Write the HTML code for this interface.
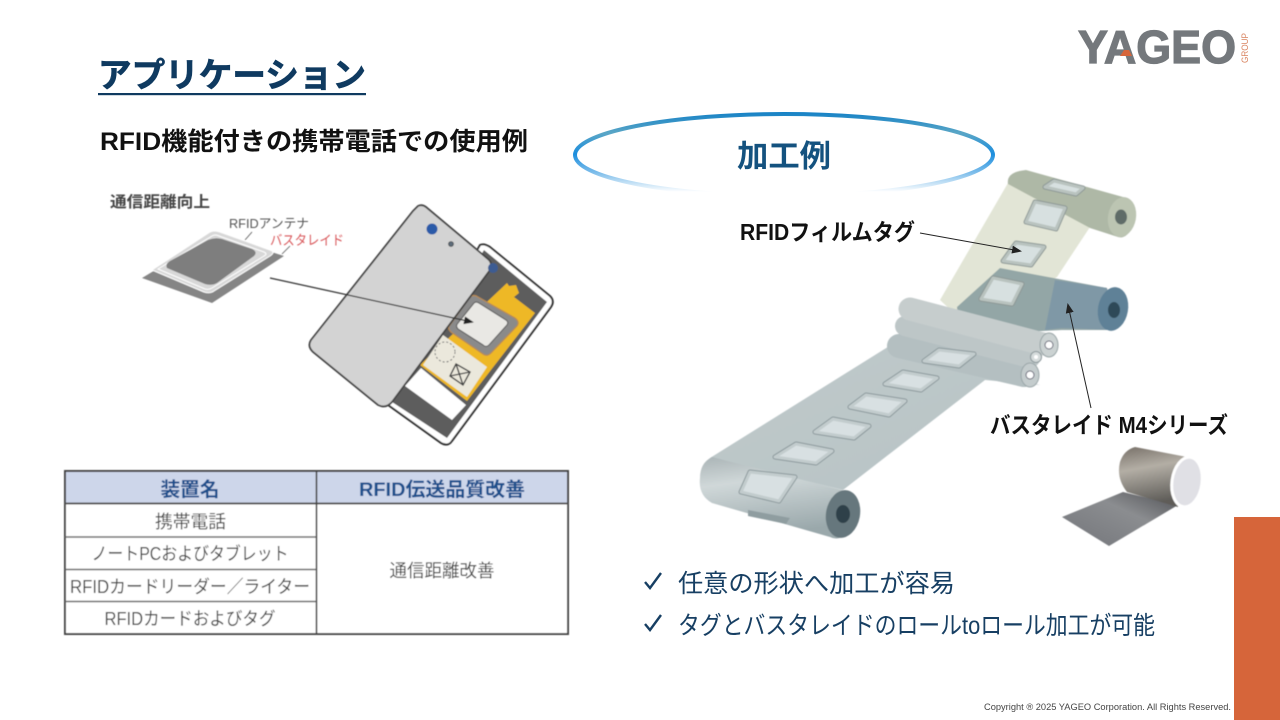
<!DOCTYPE html>
<html lang="ja"><head><meta charset="utf-8"><title>アプリケーション</title>
<style>
html,body{margin:0;padding:0;background:#fff}
svg{display:block;width:1280px;height:720px;font-family:"Liberation Sans","Noto Sans CJK JP",sans-serif}
</style></head><body>
<svg xmlns="http://www.w3.org/2000/svg" width="1280" height="720" viewBox="0 0 1280 720">
<defs>
<linearGradient id="ring" x1="0" y1="112" x2="0" y2="196" gradientUnits="userSpaceOnUse">
<stop offset="0" stop-color="#1581c6"/><stop offset=".25" stop-color="#5aa6c6"/><stop offset=".5" stop-color="#1b8ede"/><stop offset=".72" stop-color="#7dbdea"/><stop offset=".95" stop-color="#fff"/>
</linearGradient>
<linearGradient id="belt" x1="0" y1="0" x2="1" y2="1"><stop offset="0" stop-color="#c0cacb"/><stop offset="1" stop-color="#b7c3c5"/></linearGradient>
<linearGradient id="rollB" x1="0" y1="0" x2="0.25" y2="1"><stop offset="0" stop-color="#aab4b6"/><stop offset=".35" stop-color="#d0d8d9"/><stop offset="1" stop-color="#9aa8ab"/></linearGradient>
<linearGradient id="metal" x1="0" y1="0" x2=".2" y2="1"><stop offset="0" stop-color="#777068"/><stop offset=".4" stop-color="#b3aea5"/><stop offset="1" stop-color="#5e5c58"/></linearGradient>
<linearGradient id="sheet" x1="0" y1="1" x2="1" y2="0"><stop offset="0" stop-color="#73757a"/><stop offset=".6" stop-color="#8b8d90"/><stop offset="1" stop-color="#4f5054"/></linearGradient>
<marker id="ah" markerWidth="10" markerHeight="8" refX="8" refY="4" orient="auto" markerUnits="userSpaceOnUse"><path d="M0 0L10 4L0 8Z" fill="#222"/></marker>
<filter id="soft"><feGaussianBlur stdDeviation=".45"/></filter>
<g id="ltags" stroke-linejoin="round">
<polygon points="924,361 939,350 974,354 959,366"/>
<polygon points="885,384 903,372 937,378 921,390"/>
<polygon points="850,407 866,395 905,401 889,415"/>
<polygon points="815,432 833,419 869,426 854,438"/>
<polygon points="775,457 796,444 832,451 816,463"/>
<polygon points="741,492 750,472 795,477 779,501"/>
</g>
<g id="utags" stroke-linejoin="round">
<polygon points="1045,187 1054,181 1083,188 1076,194"/>
<polygon points="1026,222 1035,202 1065,208 1056,229"/>
<polygon points="1003,261 1016,243 1044,247 1031,265"/>
<polygon points="981,299 993,278 1022,284 1012,304"/>
</g>
</defs>

<rect width="1280" height="720" fill="#fff"/>

<!-- Title -->
<text x="98" y="87" font-size="34" font-weight="700" fill="#0f3a60" stroke="#0f3a60" stroke-width=".7" textLength="268" lengthAdjust="spacingAndGlyphs">アプリケーション</text>
<rect x="98" y="93" width="268" height="2.2" fill="#0f3a60"/>
<text x="100" y="150" font-size="25" font-weight="700" fill="#111" textLength="428" lengthAdjust="spacingAndGlyphs">RFID機能付きの携帯電話での使用例</text>

<!-- Logo -->
<text x="1078" y="63" font-size="46" font-weight="700" fill="#74787c" stroke="#74787c" stroke-width="1.2" textLength="158" lengthAdjust="spacingAndGlyphs">YAGEO</text>
<polygon points="1120,56 1124,50 1129,50 1132,56" fill="#d6653a"/>
<text transform="translate(1248,63) rotate(-90)" font-size="9" fill="#d9835f" textLength="30" lengthAdjust="spacingAndGlyphs">GROUP</text>

<!-- Left illustration -->
<g filter="url(#soft)">
<text x="110" y="207" font-size="15.5" font-weight="700" fill="#444" textLength="100" lengthAdjust="spacingAndGlyphs">通信距離向上</text>
<text x="229" y="228" font-size="13" fill="#555" textLength="80" lengthAdjust="spacingAndGlyphs">RFIDアンテナ</text>
<text x="270" y="245" font-size="13.5" fill="#d8575a" textLength="74" lengthAdjust="spacingAndGlyphs">バスタレイド</text>
<polygon points="142,278 215,234 284,256 212,303" fill="#858585"/>
<path d="M152 270L210 232Q214 230 220 232L270 250Q276 252 270 256L214 291Q210 294 204 292Z" fill="#d8d8d8" stroke="#fff" stroke-width="1"/>
<path d="M158 269L212 236Q215 234 219 236L264 252Q268 254 264 256L212 288Q209 290 205 289Z" fill="none" stroke="#fff" stroke-width="1"/>
<path d="M167 268Q165 264 170 261L208 240Q215 237 222 239L252 249Q258 252 254 256L217 283Q212 286 205 284Z" fill="#7e7e7e"/>
<line x1="252" y1="232" x2="245" y2="240" stroke="#555" stroke-width=".8"/>
<line x1="290" y1="246" x2="282" y2="254" stroke="#555" stroke-width=".8"/>

<!-- phone body -->
<path d="M480 245Q484 243 490 247L550 296Q555 301 551 307L452 441Q448 447 441 443L388 405Z" fill="#fff" stroke="#333" stroke-width="2"/>
<path d="M484 250L547 302L447 438L392 402Z" fill="#5d5d5d"/>
<polygon points="507,283 509,286 516,285 519,293 514,297 535,313 467,401 420,365" fill="#eeb826"/>
<polygon points="423,365 443,335 487,367 467,397" fill="#ebe8dc"/>
<polygon points="405,386 421,368 466,405 452,420" fill="#fff"/>
<path d="M470 297Q474 294 478 297L515 318Q520 322 517 326L491 353Q487 357 483 354L451 332Q447 328 450 325Z" fill="#8a8a8a" stroke="#b98a52" stroke-width="1.2"/>
<path d="M474 303Q476 301 479 303L506 320Q509 322 507 325L489 345Q486 348 483 345L458 329Q455 326 458 323Z" fill="#e9e8e4" stroke="#666" stroke-width="1.2"/>
<circle cx="445" cy="352" r="10" fill="none" stroke="#777" stroke-width="1" stroke-dasharray="2 2"/>
<path d="M456 364L470 372L463 385L450 376ZM456 364L463 385M470 372L450 376" fill="none" stroke="#444" stroke-width="1.4"/>
<!-- phone back -->
<path d="M418 206Q422 204 426 207L488 259Q493 263 490 270L392 402Q386 409 378 405L313 352Q307 346 311 340L413 211Z" fill="#d3d3d3" stroke="#444" stroke-width="1.8"/>
<circle cx="432" cy="229" r="5.5" fill="#2a5aa8"/><circle cx="451" cy="244" r="2.5" fill="#5c6a78" stroke="#333" stroke-width=".6"/>
<circle cx="493" cy="268" r="5" fill="#3d5c92"/>
<line x1="270" y1="278" x2="472" y2="322" stroke="#333" stroke-width="1.2" marker-end="url(#ah)"/>
</g>

<!-- Table -->
<g filter="url(#soft)">
<rect x="65" y="471" width="503" height="163" fill="#fff" stroke="#444" stroke-width="2"/>
<rect x="66" y="472" width="501" height="31" fill="#cdd6ea"/>
<line x1="65" y1="503.5" x2="568" y2="503.5" stroke="#555" stroke-width="2"/>
<line x1="316.500" y1="471" x2="316.500" y2="634" stroke="#444" stroke-width="1.6"/>
<g stroke="#666" stroke-width="1.4"><line x1="65" y1="537" x2="316" y2="537"/><line x1="65" y1="569.500" x2="316" y2="569.500"/><line x1="65" y1="601.500" x2="316" y2="601.500"/></g>
<text x="190" y="496" font-size="19.500" font-weight="700" fill="#1c4f8c" text-anchor="middle" textLength="59" lengthAdjust="spacingAndGlyphs">装置名</text>
<text x="442" y="496" font-size="19.500" font-weight="700" fill="#1c4f8c" text-anchor="middle" textLength="166" lengthAdjust="spacingAndGlyphs">RFID伝送品質改善</text>
<g font-size="18" fill="#444" text-anchor="middle">
<text x="190.500" y="528" textLength="71" lengthAdjust="spacingAndGlyphs">携帯電話</text>
<text x="190" y="560" textLength="197" lengthAdjust="spacingAndGlyphs">ノートPCおよびタブレット</text>
<text x="190" y="593" textLength="240" lengthAdjust="spacingAndGlyphs">RFIDカードリーダー／ライター</text>
<text x="190" y="625" textLength="171" lengthAdjust="spacingAndGlyphs">RFIDカードおよびタグ</text>
<text x="442" y="577" textLength="105" lengthAdjust="spacingAndGlyphs">通信距離改善</text>
</g>
</g>

<!-- Ellipse header -->
<ellipse cx="784" cy="155" rx="209" ry="41" fill="#fff" stroke="url(#ring)" stroke-width="4"/>
<text x="784" y="167" font-size="31" font-weight="700" fill="#14527f" text-anchor="middle" textLength="94" lengthAdjust="spacingAndGlyphs">加工例</text>

<!-- Roll to roll -->
<g filter="url(#soft)">
<!-- upper film -->
<polygon points="1008,183 1090,227 1057,277 972,330 940,300" fill="#e2e5d6"/>
<path d="M1026 170L1123 197A13 20 0 0 1 1118 237L1090 228L1008 184Q1006 172 1026 170Z" fill="#aeb8a6"/>
<ellipse cx="1122" cy="217" rx="14" ry="20" transform="rotate(10 1122 217)" fill="#bcc5b2"/>
<ellipse cx="1121" cy="217" rx="6" ry="7.500" fill="#5f6c68"/>
<!-- blue roll -->
<polygon points="1000,268 1107,288 1115,330 1062,330 960,335 957,307" fill="#93a6a6"/>
<polygon points="1055,280 1107,288 1112,330 1062,328 1045,330" fill="#7f98a6"/>
<ellipse cx="1113" cy="309" rx="15" ry="22" transform="rotate(10 1113 309)" fill="#5f8197"/>
<ellipse cx="1114" cy="310" rx="6" ry="8" fill="#2e4a59"/>
<!-- upper tags -->
<use href="#utags" fill="none" stroke="#8d9896" stroke-width="5"/>
<use href="#utags" fill="#d7e0e0" stroke="#b9c3bf" stroke-width="3"/>
<!-- lower belt -->
<polygon points="710,458 891,345 1040,385 985,380 843,490" fill="url(#belt)"/>
<path d="M712 457L842 490A17 24 0 0 1 830 537L712 503Q698 495 700 478Q700 463 712 457Z" fill="url(#rollB)"/>
<ellipse cx="843" cy="514" rx="17" ry="24" transform="rotate(10 843 514)" fill="#66777d"/>
<ellipse cx="843" cy="514" rx="7" ry="9" fill="#2f4149"/>
<!-- rollers -->
<g stroke-linecap="round">
<line x1="899" y1="346" x2="1024" y2="375" stroke="#b4bfc1" stroke-width="24"/>
<line x1="905" y1="326" x2="1030" y2="358" stroke="#bdc6c7" stroke-width="20"/>
<line x1="910" y1="309" x2="1043" y2="344" stroke="#c6cdcd" stroke-width="23"/>
</g>
<ellipse cx="1030" cy="375" rx="9" ry="12" fill="#c4cccd" stroke="#9aa6a8"/><circle cx="1030" cy="375" r="4" fill="#fff" stroke="#667"/>
<circle cx="1036" cy="357" r="5.500" fill="#d5dbdb" stroke="#8b979a"/><circle cx="1036" cy="357" r="2" fill="#fff"/>
<ellipse cx="1049" cy="345" rx="9" ry="12" fill="#cbd2d2" stroke="#98a4a6"/><circle cx="1049" cy="345" r="4" fill="#fff" stroke="#667"/>
<!-- lower tags -->
<use href="#ltags" fill="none" stroke="#8b989b" stroke-width="5"/>
<use href="#ltags" fill="#d8e0e2" stroke="#c2cccd" stroke-width="3"/>
<polygon points="748,510 790,518 786,524 748,516" fill="#8f9da0"/>
<!-- metal roll -->
<polygon points="1062,517 1123,492 1178,505 1109,546" fill="url(#sheet)"/>
<path d="M1135 447L1187 457L1178 507L1127 492Q1116 478 1120 462Q1124 450 1135 447Z" fill="url(#metal)"/>
<ellipse cx="1187" cy="482" rx="15" ry="25" transform="rotate(8 1187 482)" fill="#e0e0e5" stroke="#fff" stroke-width="3"/>
</g>

<!-- Labels & arrows -->
<line x1="920" y1="233" x2="1020" y2="251" stroke="#222" stroke-width="1" marker-end="url(#ah)"/>
<line x1="1091" y1="408" x2="1068" y2="305" stroke="#222" stroke-width="1" marker-end="url(#ah)"/>
<text x="740" y="240" font-size="23" font-weight="700" fill="#111" textLength="175" lengthAdjust="spacingAndGlyphs">RFIDフィルムタグ</text>
<text x="990" y="433" font-size="23" font-weight="700" fill="#111" textLength="238" lengthAdjust="spacingAndGlyphs">バスタレイド M4シリーズ</text>

<!-- Bullets -->
<g fill="#173f63" font-size="25">
<path d="M645 582L650 588L661 573" fill="none" stroke="#173f63" stroke-width="2.4"/>
<text x="678" y="592" textLength="277" lengthAdjust="spacingAndGlyphs">任意の形状へ加工が容易</text>
<path d="M645 624L650 630L661 615" fill="none" stroke="#173f63" stroke-width="2.4"/>
<text x="678" y="634" textLength="477" lengthAdjust="spacingAndGlyphs">タグとバスタレイドのロールtoロール加工が可能</text>
</g>

<!-- Footer -->
<rect x="1234" y="517" width="46" height="203" fill="#d6653a"/>
<text x="984" y="710" font-size="9" fill="#444" textLength="247" lengthAdjust="spacingAndGlyphs">Copyright ® 2025 YAGEO Corporation. All Rights Reserved.</text>
</svg>
</body></html>
